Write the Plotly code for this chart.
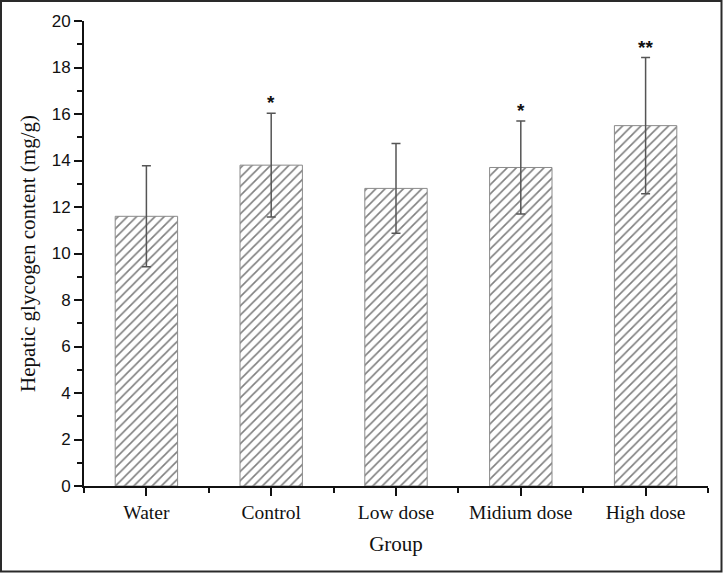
import plotly.graph_objects as go

groups = ["Water", "Control", "Low dose", "Midium dose", "High dose"]
means = [11.6, 13.8, 12.8, 13.7, 15.5]
errors = [2.17, 2.23, 1.93, 2.0, 2.93]
stars = ["", "*", "", "*", "**"]

W, H = 724, 574
L, R, T, B = 84, 16, 21, 88
pw, ph = W - L - R, H - T - B

fig = go.Figure()
fig.add_trace(go.Bar(
    x=groups, y=means, width=0.5,
    marker=dict(color="white", line=dict(color="#8a8a8a", width=1),
                pattern=dict(shape="/", fgcolor="#000000", bgcolor="white", size=6.5, solidity=0.25)),
    error_y=dict(type="data", array=errors, visible=True, color="#555555", thickness=1.5, width=4.5),
    showlegend=False,
))

for g, m, e, s in zip(groups, means, errors, stars):
    if s:
        fig.add_annotation(x=g, y=m + e, text="<b>" + s + "</b>", showarrow=False,
                           yanchor="bottom", yshift=-2, font=dict(family="Liberation Sans", size=19, color="#111"))

fig.add_shape(type="rect", xref="paper", yref="paper",
              x0=-(L - 1) / pw, x1=1 + (R - 2.5) / pw, y0=-(B - 2.5) / ph, y1=1 + (T - 1) / ph,
              line=dict(color="#2a2a2a", width=2))

fig.update_layout(
    width=W, height=H, margin=dict(l=L, r=R, t=T, b=B),
    paper_bgcolor="white", plot_bgcolor="white",
    xaxis=dict(
        range=[-0.5, 4.5], showline=True, linecolor="#111", linewidth=2,
        ticks="outside", ticklen=8, tickwidth=1.5, tickcolor="#111",
        minor=dict(ticks="outside", ticklen=5, tickwidth=1.5, tickcolor="#111", tickvals=[-0.5, 0.5, 1.5, 2.5, 3.5, 4.5]),
        tickfont=dict(family="Liberation Serif", size=19.5, color="#111"),
        title=dict(text="Group", font=dict(family="Liberation Serif", size=21, color="#111"), standoff=14),
        showgrid=False, zeroline=False,
    ),
    yaxis=dict(
        range=[0, 20], showline=True, linecolor="#111", linewidth=2,
        tickvals=list(range(0, 21, 2)), ticks="outside", ticklen=8, tickwidth=1.5, tickcolor="#111",
        minor=dict(ticks="outside", ticklen=5, tickwidth=1.5, tickcolor="#111", tickvals=list(range(1, 20, 2))),
        tickfont=dict(family="Liberation Sans", size=17, color="#111"),
        title=dict(text="Hepatic glycogen content (mg/g)", font=dict(family="Liberation Serif", size=21, color="#111"), standoff=10),
        showgrid=False, zeroline=False,
    ),
)

fig.write_html("out.html", config={"displayModeBar": False},
               post_script="document.body.style.margin='0';document.body.style.overflow='hidden';")
